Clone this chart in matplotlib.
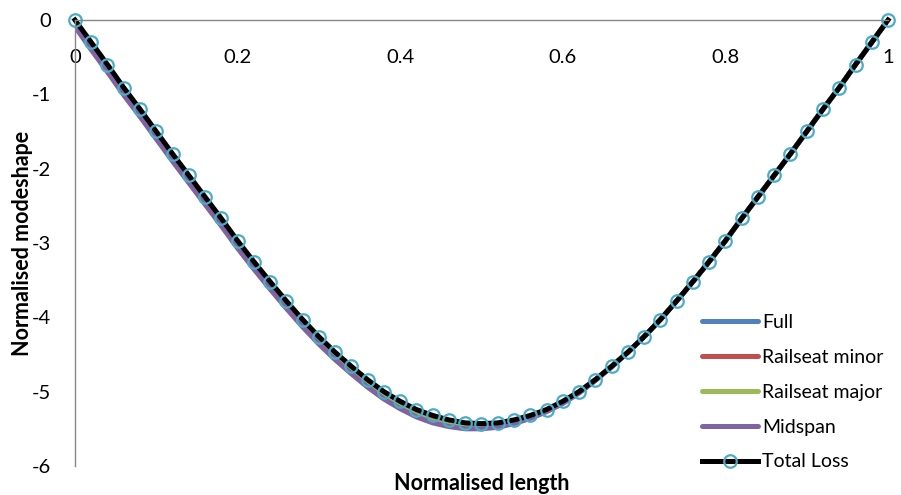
import matplotlib.pyplot as plt

plt.rcParams['font.family'] = ['Lato', 'DejaVu Sans']
plt.rcParams['axes.unicode_minus'] = False

# normalised position along the sleeper
x = [0.00, 0.02, 0.04, 0.06, 0.08, 0.10, 0.12, 0.14, 0.16, 0.18,
     0.20, 0.22, 0.24, 0.26, 0.28, 0.30, 0.32, 0.34, 0.36, 0.38,
     0.40, 0.42, 0.44, 0.46, 0.48, 0.50, 0.52, 0.54, 0.56, 0.58,
     0.60, 0.62, 0.64, 0.66, 0.68, 0.70, 0.72, 0.74, 0.76, 0.78,
     0.80, 0.82, 0.84, 0.86, 0.88, 0.90, 0.92, 0.94, 0.96, 0.98, 1.00]

full = [-0.05, -0.36, -0.66, -0.97, -1.26, -1.56, -1.86, -2.15, -2.44, -2.73,
        -3.03, -3.31, -3.58, -3.84, -4.09, -4.32, -4.53, -4.72, -4.90, -5.06,
        -5.19, -5.30, -5.38, -5.43, -5.46, -5.47, -5.45, -5.40, -5.33, -5.25,
        -5.14, -5.00, -4.84, -4.66, -4.47, -4.26, -4.03, -3.78, -3.52, -3.25,
        -2.97, -2.67, -2.38, -2.09, -1.80, -1.50, -1.20, -0.91, -0.60, -0.30, 0.00]

railseat_minor = [-0.06, -0.37, -0.67, -0.98, -1.27, -1.57, -1.87, -2.16, -2.45, -2.74,
                  -3.04, -3.32, -3.59, -3.85, -4.10, -4.33, -4.54, -4.73, -4.91, -5.07,
                  -5.20, -5.31, -5.39, -5.44, -5.47, -5.48, -5.46, -5.41, -5.34, -5.26,
                  -5.14, -5.00, -4.84, -4.66, -4.47, -4.26, -4.03, -3.78, -3.52, -3.25,
                  -2.97, -2.67, -2.38, -2.09, -1.80, -1.50, -1.20, -0.91, -0.60, -0.30, 0.00]

railseat_major = [-0.07, -0.38, -0.68, -0.99, -1.28, -1.58, -1.88, -2.17, -2.46, -2.75,
                  -3.05, -3.33, -3.60, -3.86, -4.11, -4.34, -4.55, -4.74, -4.92, -5.08,
                  -5.21, -5.32, -5.40, -5.45, -5.48, -5.48, -5.46, -5.41, -5.34, -5.26,
                  -5.15, -5.01, -4.85, -4.66, -4.47, -4.26, -4.03, -3.78, -3.52, -3.25,
                  -2.97, -2.67, -2.38, -2.09, -1.80, -1.50, -1.20, -0.91, -0.60, -0.30, 0.00]

midspan = [-0.09, -0.40, -0.70, -1.01, -1.30, -1.60, -1.90, -2.19, -2.48, -2.77,
           -3.07, -3.35, -3.62, -3.88, -4.13, -4.36, -4.57, -4.76, -4.94, -5.10,
           -5.23, -5.34, -5.42, -5.47, -5.50, -5.50, -5.48, -5.43, -5.36, -5.27,
           -5.16, -5.02, -4.85, -4.67, -4.47, -4.26, -4.03, -3.78, -3.52, -3.25,
           -2.97, -2.67, -2.38, -2.09, -1.80, -1.50, -1.20, -0.91, -0.60, -0.30, 0.00]

total_loss = [0.00, -0.30, -0.60, -0.91, -1.20, -1.50, -1.80, -2.09, -2.38, -2.67,
              -2.97, -3.25, -3.52, -3.78, -4.03, -4.26, -4.47, -4.66, -4.84, -5.00,
              -5.13, -5.24, -5.32, -5.38, -5.42, -5.43, -5.42, -5.38, -5.32, -5.24,
              -5.13, -5.00, -4.84, -4.66, -4.47, -4.26, -4.03, -3.78, -3.52, -3.25,
              -2.97, -2.67, -2.38, -2.09, -1.80, -1.50, -1.20, -0.91, -0.60, -0.30, 0.00]

xticks = [0, 0.2, 0.4, 0.6, 0.8, 1]
xtick_labels = ['0', '0.2', '0.4', '0.6', '0.8', '1']
yticks = [0, -1, -2, -3, -4, -5, -6]

fig = plt.figure(figsize=(9.01, 4.95), dpi=100)
ax = fig.add_axes([0.0832, 0.0586, 0.9024, 0.901])

ax.plot(x, full, color='#4F81BD', lw=3.6, label='Full', solid_capstyle='round')
ax.plot(x, railseat_minor, color='#C0504D', lw=3.6, label='Railseat minor', solid_capstyle='round')
ax.plot(x, railseat_major, color='#9BBB59', lw=3.6, label='Railseat major', solid_capstyle='round')
ax.plot(x, midspan, color='#8064A2', lw=3.6, label='Midspan', solid_capstyle='round')
ax.plot(x, total_loss, color='black', lw=3.6, marker='o', ms=9, mfc='none',
        mec='#4BACC6', mew=1.6, label='Total Loss', clip_on=False)

ax.set_xlim(0, 1)
ax.set_ylim(-6, 0)

for side in ['bottom', 'right']:
    ax.spines[side].set_visible(False)
for side in ['top', 'left']:
    ax.spines[side].set_color('#868686')
    ax.spines[side].set_linewidth(1)

ax.xaxis.tick_top()
ax.set_xticks(xticks, labels=xtick_labels)
ax.set_yticks(yticks)
ax.tick_params(axis='x', length=0, pad=-33, labelsize=14.5)
ax.tick_params(axis='y', length=0, pad=17, labelsize=14.5)

ax.set_xlabel('Normalised length', fontsize=15.5, fontweight='bold', labelpad=5)
ax.xaxis.set_label_position('bottom')
ax.set_ylabel('Normalised modeshape', fontsize=15.5, fontweight='bold', labelpad=-1)

ax.legend(loc='lower left', bbox_to_anchor=(0.77, 0.034), bbox_transform=fig.transFigure,
          frameon=False, fontsize=14, handlelength=2.9, labelspacing=0.92,
          handletextpad=0.2, borderaxespad=0)

fig.savefig('out.png', dpi=100)
